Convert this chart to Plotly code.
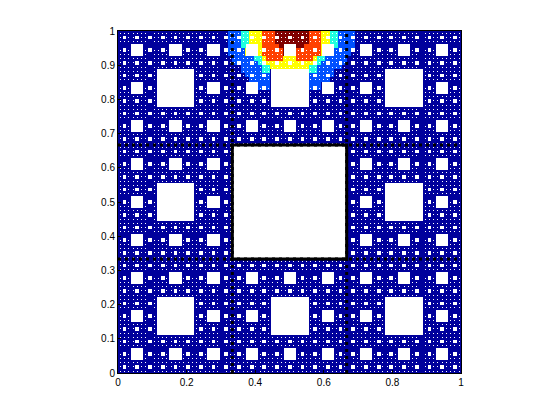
import numpy as np
import plotly.graph_objects as go

# colour bands, 0 = dark blue ... 5 = dark red
band_colors = ["#00009c", "#0050ff", "#20ffdf", "#ffff00", "#ff4000", "#800000"]

# bands per cell of the 81 x 81 mesh, top rows only, columns 24 to 56
# everything outside this block is the dark blue band
first_col = 24
top_rows = [
    "001112233344455555555444332211110",
    "001112233344455555555444332211110",
    "001112233344455555555444332211110",
    "001112233344445555554444332211110",
    "011111333344444555444444333111110",
    "001111333344444555444444333111100",
    "000111112234444333444432211111000",
    "000111111223333333333322111111000",
    "000001111122333333333221111110000",
    "000001111122000000000221111000000",
    "000000111111000000000111111000000",
    "000000011111000000000111110000000",
    "000000000111000000000111000000000",
    "000000000111000000000111000000000",
]

tick_x = [0, 0.2, 0.4, 0.6, 0.8, 1]
tick_y = [0, 0.1, 0.2, 0.3, 0.4, 0.5, 0.6, 0.7, 0.8, 0.9, 1]

# the domain: Sierpinski carpet, 5 levels of the 3 x 3 motif
motif = np.array([[1, 1, 1], [1, 0, 1], [1, 1, 1]])
mask = np.ones((1, 1), dtype=int)
for level in range(5):
    mask = np.kron(mask, motif)

# one finer step so the holes can lose a thin rim to the thick mesh lines
mask = np.kron(mask, np.ones((3, 3), dtype=int))
grown = mask.copy()
grown[1:, :] |= mask[:-1, :]
grown[:, 1:] |= mask[:, :-1]
mask = grown
n = mask.shape[0]

bands = np.zeros((81, 81), dtype=np.float32)
for r, row in enumerate(top_rows):
    for c, ch in enumerate(row):
        bands[r, first_col + c] = int(ch)

z = np.kron(bands, np.ones((9, 9), dtype=np.float32))
z[mask == 0] = np.nan
z = z[::-1]  # row 0 is the top of the picture

centers = (np.arange(n) + 0.5) / n

scale = []
for i, col in enumerate(band_colors):
    scale.append([i / len(band_colors), col])
    scale.append([(i + 1) / len(band_colors), col])

fig = go.Figure()
fig.add_trace(go.Heatmap(x=centers, y=centers, z=z, zmin=-0.5, zmax=5.5,
                         colorscale=scale, showscale=False, hoverongaps=False))

# mesh lines at the thirds, dotted where the carpet covers them
third = 1 / 3
for pos in [third, 2 * third]:
    fig.add_trace(go.Scatter(x=[pos, pos], y=[0, 1], mode="lines",
                             line=dict(color="black", width=3, dash="3px,4px")))
    fig.add_trace(go.Scatter(x=[0, 1], y=[pos, pos], mode="lines",
                             line=dict(color="black", width=3, dash="3px,4px")))

# thick edge of the central hole
fig.add_trace(go.Scatter(x=[third, 2 * third, 2 * third, third, third],
                         y=[third, third, 2 * third, 2 * third, third],
                         mode="lines", line=dict(color="black", width=3)))

axis_style = dict(range=[0, 1], showgrid=False, zeroline=False, showline=True,
                  mirror=True, linecolor="black", linewidth=1, ticks="inside",
                  ticklen=3, tickcolor="black", tickformat="~g")

# the page keeps its 8px body margin, so the figure is 16px smaller than the window
fig.update_layout(
    width=544, height=404, showlegend=False,
    margin=dict(l=110, r=91, t=23, b=39),
    paper_bgcolor="white", plot_bgcolor="white",
    font=dict(family="Liberation Sans", size=10, color="black"),
    xaxis=dict(tickvals=tick_x, **axis_style),
    yaxis=dict(tickvals=tick_y, **axis_style),
)

fig.write_html("out.html")
